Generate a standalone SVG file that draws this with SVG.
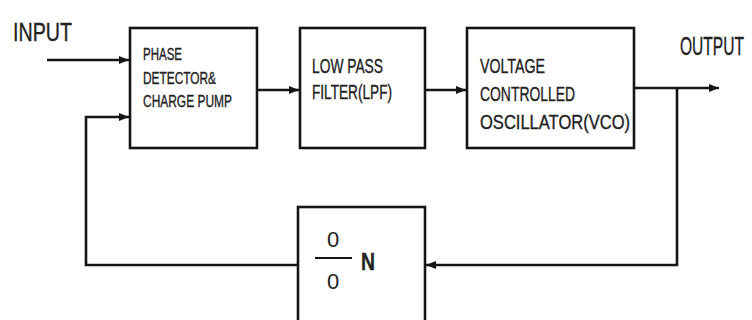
<svg xmlns="http://www.w3.org/2000/svg" width="752" height="320" viewBox="0 0 752 320">
  <style>
    .box { fill: #ffffff; stroke: #151515; stroke-width: 2.6; }
    .wire { fill: none; stroke: #151515; stroke-width: 2.6; }
    .t { font-family: "Liberation Sans Narrow", "Liberation Sans", Arial, sans-serif; fill: #222222; stroke: #222222; stroke-width: 0.35; }
    .pd { font-size: 16.5px; }
    .big { font-size: 20px; }
    .io { font-size: 25px; }
    .frac { font-family: "Liberation Sans Narrow", "Liberation Sans", Arial, sans-serif; fill: #222222; font-size: 22px; }
  </style>
  <defs>
    <marker id="ah" viewBox="0 0 10 8" refX="10" refY="4" markerWidth="10" markerHeight="8" markerUnits="userSpaceOnUse" orient="auto">
      <path d="M0 0 L10 4 L0 8 Z" fill="#151515"/>
    </marker>
  </defs>
  <rect width="752" height="320" fill="#ffffff"/>

  <g id="connectors">
    <path class="wire" d="M47 60 H129" marker-end="url(#ah)"/>
    <path class="wire" d="M298 265 H86 V117 H129" marker-end="url(#ah)"/>
    <path class="wire" d="M257 90 H299" marker-end="url(#ah)"/>
    <path class="wire" d="M425 90 H466" marker-end="url(#ah)"/>
    <path class="wire" d="M634 88 H719" marker-end="url(#ah)"/>
    <path class="wire" d="M677 88 V265 H426" marker-end="url(#ah)"/>
  </g>

  <g id="input-label">
    <text class="t io" x="13" y="41" textLength="59" lengthAdjust="spacingAndGlyphs">INPUT</text>
  </g>
  <g id="output-label">
    <text class="t io" x="680" y="55" textLength="64" lengthAdjust="spacingAndGlyphs">OUTPUT</text>
  </g>

  <g id="phase-detector">
    <rect class="box" x="130" y="28" width="127" height="120"/>
    <text class="t pd" x="143" y="60" textLength="39" lengthAdjust="spacingAndGlyphs">PHASE</text>
    <text class="t pd" x="143" y="84" textLength="73" lengthAdjust="spacingAndGlyphs">DETECTOR&amp;</text>
    <text class="t pd" x="143" y="107" textLength="89" lengthAdjust="spacingAndGlyphs">CHARGE PUMP</text>
  </g>

  <g id="lpf">
    <rect class="box" x="300" y="28" width="125" height="120"/>
    <text class="t big" x="312" y="73" textLength="71" lengthAdjust="spacingAndGlyphs">LOW PASS</text>
    <text class="t big" x="312" y="99" textLength="80" lengthAdjust="spacingAndGlyphs">FILTER(LPF)</text>
  </g>

  <g id="vco">
    <rect class="box" x="467" y="28" width="167" height="120"/>
    <text class="t big" x="480" y="73" textLength="65" lengthAdjust="spacingAndGlyphs">VOLTAGE</text>
    <text class="t big" x="480" y="101" textLength="95" lengthAdjust="spacingAndGlyphs">CONTROLLED</text>
    <text class="t big" x="480" y="129" textLength="150" lengthAdjust="spacingAndGlyphs">OSCILLATOR(VCO)</text>
  </g>

  <g id="divider">
    <rect class="box" x="298" y="207" width="127" height="130"/>
    <text class="frac" x="333" y="247" text-anchor="middle">0</text>
    <line x1="315" y1="258" x2="352" y2="258" stroke="#151515" stroke-width="2"/>
    <text class="frac" x="333" y="289" text-anchor="middle">0</text>
    <text class="t" x="361" y="270" font-size="23" font-weight="bold" textLength="14" lengthAdjust="spacingAndGlyphs">N</text>
  </g>
</svg>
